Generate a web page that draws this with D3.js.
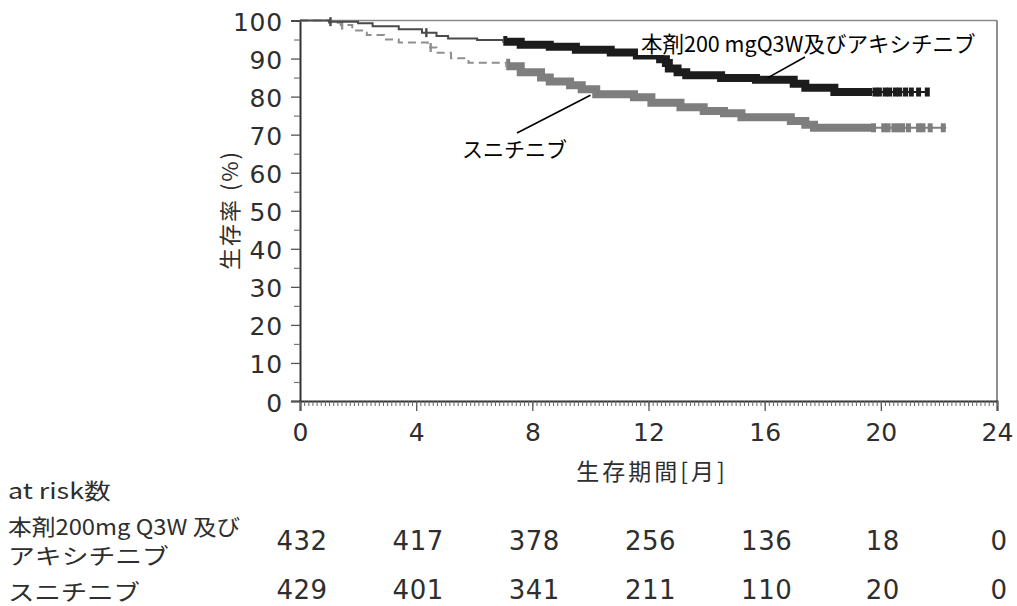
<!DOCTYPE html>
<html>
<head>
<meta charset="utf-8">
<script src="https://cdn.jsdelivr.net/npm/d3@7"></script>
<style>
  html, body { margin: 0; padding: 0; background: #fff; }
  svg { display: block; }
</style>
</head>
<body>
<svg id="chart" width="1017" height="606"></svg>
<script>
// ---------------- DATA ----------------
const xTicks = [0, 4, 8, 12, 16, 20, 24];
const yTicks = [0, 10, 20, 30, 40, 50, 60, 70, 80, 90, 100];

const seriesNames = ["本剤200 mgQ3W及びアキシチニブ", "スニチニブ"];
const riskLabels = [["本剤200mg Q3W 及び", "アキシチニブ"], ["スニチニブ"]];
const riskTimes = [0, 4, 8, 12, 16, 20, 24];
const riskPembro = [432, 417, 378, 256, 136, 18, 0];
const riskSuni = [429, 401, 341, 211, 110, 20, 0];

// Kaplan-Meier steps (month, survival %)
const pembroTimes = [0, 1.0, 2.0, 2.5, 3.4, 4.2, 4.7, 5.1, 6.1, 7.0, 7.6, 8.6, 9.5, 10.7, 11.6, 12.4, 12.6, 12.7, 13.0, 13.3, 14.5, 15.7, 17.0, 17.4, 18.4];
const pembroSurv  = [100, 99.7, 99.3, 98.5, 97.7, 96.8, 95.9, 95.3, 94.9, 94.4, 93.6, 93.1, 92.3, 91.6, 90.8, 89.8, 88.8, 87.4, 86.4, 85.6, 84.9, 84.4, 83.4, 82.3, 81.2];
const pembroEnd = 21.6;
const pembroDense = [7.0, 19.7];
const pembroCensor = [1.05, 4.35, 19.8, 19.95, 20.15, 20.3, 20.5, 20.65, 20.85, 21.05, 21.3, 21.6];

const suniTimes = [0, 1.0, 1.4, 1.8, 2.3, 2.9, 3.4, 4.4, 4.7, 5.2, 5.8, 7.1, 7.6, 8.3, 8.6, 9.3, 9.7, 10.2, 11.5, 12.1, 13.1, 13.9, 14.6, 15.2, 16.9, 17.4, 17.7];
const suniSurv  = [100, 99.4, 98.8, 97.4, 96.2, 95.0, 94.2, 92.9, 91.5, 90.1, 88.9, 88.0, 86.4, 85.0, 84.0, 83.0, 81.9, 80.6, 79.8, 78.4, 77.2, 76.2, 75.6, 74.6, 73.6, 72.6, 71.8];
const suniEnd = 22.25;
const suniDense = [7.1, 19.7];
const suniCensor = [1.45, 4.5, 19.75, 20.1, 20.25, 20.45, 20.6, 20.75, 20.95, 21.3, 21.45, 21.7, 22.15];

// ---------------- LAYOUT ----------------
const svg = d3.select("#chart");
const L = 300, R = 997, T = 20.5, B = 401;
const x = d3.scaleLinear().domain([0, 24]).range([L, R]);
const y = d3.scaleLinear().domain([0, 100]).range([B, T]);

const numFont = "DejaVu Sans, Verdana, sans-serif";
const jpFont = "'Noto Sans CJK JP', 'Noto Sans', sans-serif";
const textCol = "#2e2e2e";

// frame (top & right)
svg.append("line").attr("x1", L).attr("x2", R).attr("y1", T).attr("y2", T)
  .attr("stroke", "#8a8a8a").attr("stroke-width", 1.5);
svg.append("line").attr("x1", R).attr("x2", R).attr("y1", T).attr("y2", B)
  .attr("stroke", "#6a6a6a").attr("stroke-width", 1.5);

// Y axis
const yAxis = d3.axisLeft(y).tickValues(yTicks).tickSize(9).tickPadding(8);
const gy = svg.append("g").attr("transform", `translate(${L},0)`).call(yAxis);
gy.select(".domain").attr("stroke", "#333").attr("stroke-width", 2);
gy.selectAll(".tick line").attr("stroke", "#555").attr("stroke-width", 1.3);
gy.selectAll(".tick text").attr("font-family", numFont).attr("font-size", 25)
  .attr("letter-spacing", 0.8).attr("dy", "0.4em").attr("fill", textCol);
const yMinor = d3.axisLeft(y).tickValues(d3.range(5, 100, 10)).tickSize(6).tickFormat("");
const gym = svg.append("g").attr("transform", `translate(${L},0)`).call(yMinor);
gym.select(".domain").remove();
gym.selectAll(".tick line").attr("stroke", "#777").attr("stroke-width", 1.2);

// X axis
const xAxis = d3.axisBottom(x).tickValues(xTicks).tickSize(10).tickPadding(12);
const gx = svg.append("g").attr("transform", `translate(0,${B})`).call(xAxis);
gx.select(".domain").attr("stroke", "#333").attr("stroke-width", 2);
gx.selectAll(".tick line").attr("stroke", "#555").attr("stroke-width", 1.3);
gx.selectAll(".tick text").attr("font-family", numFont).attr("font-size", 25).attr("fill", textCol);
const xMinor = d3.axisBottom(x).tickValues(d3.range(0, 24 * 7 + 1).map(d => d / 7)).tickSize(5).tickFormat("");
const gxm = svg.append("g").attr("transform", `translate(0,${B})`).call(xMinor);
gxm.select(".domain").remove();
gxm.selectAll(".tick line").attr("stroke", "#666").attr("stroke-width", 1);

// axis titles
svg.append("text").attr("transform", `translate(228,210) rotate(-90)`)
  .attr("text-anchor", "middle").attr("dominant-baseline", "central")
  .attr("font-family", jpFont).attr("font-size", 22).attr("letter-spacing", 2)
  .attr("fill", textCol).text("生存率 (%)");
svg.append("text").attr("x", 652).attr("y", 470)
  .attr("text-anchor", "middle").attr("dominant-baseline", "central")
  .attr("font-family", jpFont).attr("font-size", 23).attr("letter-spacing", 3)
  .attr("fill", textCol).text("生存期間[月]");

// ---------------- CURVES ----------------
const line = d3.line().x(d => x(d[0])).y(d => y(d[1])).curve(d3.curveStepAfter);
const defs = svg.append("defs");
function clip(id, a, b) {
  defs.append("clipPath").attr("id", id).append("rect")
    .attr("x", x(a)).attr("width", x(b) - x(a)).attr("y", 0).attr("height", 606);
  return `url(#${id})`;
}

function drawSeries(key, times, surv, end, dense, censor, thinCol, thinDash, bandCol) {
  const pts = times.map((t, i) => [t, surv[i]]);
  pts.push([end, surv[surv.length - 1]]);
  const d = line(pts);
  svg.append("path").attr("d", d).attr("fill", "none")
    .attr("stroke", thinCol).attr("stroke-width", 2)
    .attr("stroke-dasharray", thinDash)
    .attr("clip-path", clip(key + "a", 0, dense[0]));
  svg.append("path").attr("d", d).attr("fill", "none")
    .attr("stroke", bandCol).attr("stroke-width", 8)
    .attr("clip-path", clip(key + "b", dense[0], dense[1]));
  svg.append("path").attr("d", d).attr("fill", "none")
    .attr("stroke", bandCol).attr("stroke-width", 2)
    .attr("clip-path", clip(key + "c", dense[1], end + 0.1));
  const survAt = t => { let s = surv[0]; times.forEach((tt, i) => { if (tt <= t) s = surv[i]; }); return s; };
  svg.append("g").selectAll("rect").data(censor).join("rect")
    .attr("x", t => x(t) - (t > dense[1] ? 2.5 : 1.2))
    .attr("width", t => t > dense[1] ? 5 : 2.4)
    .attr("y", t => y(survAt(t)) - 4.5)
    .attr("height", 9)
    .attr("fill", t => t > dense[1] ? bandCol : thinCol);
}

drawSeries("s", suniTimes, suniSurv, suniEnd, suniDense, suniCensor, "#8f8f8f", "8,5", "#7e7e7e");
drawSeries("p", pembroTimes, pembroSurv, pembroEnd, pembroDense, pembroCensor, "#4a4a4a", null, "#1c1c1c");

// ---------------- ANNOTATIONS ----------------
svg.append("rect").attr("x", 638).attr("y", 29).attr("width", 342).attr("height", 26).attr("fill", "#fff");
svg.append("text").attr("x", 641).attr("y", 42).attr("dominant-baseline", "central")
  .attr("font-family", jpFont).attr("font-size", 21.5).attr("fill", "#000").text(seriesNames[0]);
svg.append("line").attr("x1", x(16.1)).attr("y1", y(84.4) - 2).attr("x2", 805).attr("y2", 57)
  .attr("stroke", "#000").attr("stroke-width", 1.6);
svg.append("text").attr("x", 462).attr("y", 148).attr("dominant-baseline", "central")
  .attr("font-family", jpFont).attr("font-size", 21).attr("fill", "#000").text(seriesNames[1]);
svg.append("line").attr("x1", 517).attr("y1", 133).attr("x2", x(10.0)).attr("y2", y(80.6) + 1)
  .attr("stroke", "#000").attr("stroke-width", 1.6);

// ---------------- AT RISK TABLE ----------------
function jpLabel(txt, yy, sx) {
  svg.append("text").attr("transform", `translate(8,${yy}) scale(${sx},1)`)
    .attr("dominant-baseline", "central")
    .attr("font-family", jpFont).attr("font-size", 22)
    .attr("fill", textCol).text(txt);
}
jpLabel("at risk数", 490, 1.22);
jpLabel(riskLabels[0][0], 525, 1.08);
jpLabel(riskLabels[0][1], 555, 1.22);
jpLabel(riskLabels[1][0], 590, 1.2);

const rowY = [541, 590];
[riskPembro, riskSuni].forEach((vals, r) => {
  svg.append("g").selectAll("text").data(vals).join("text")
    .attr("x", (d, i) => x(riskTimes[i]) + 2)
    .attr("y", rowY[r]).attr("text-anchor", "middle").attr("dominant-baseline", "central")
    .attr("font-family", numFont).attr("font-size", 26).attr("letter-spacing", 0.5).attr("fill", textCol)
    .text(d => d);
});
</script>
</body>
</html>
